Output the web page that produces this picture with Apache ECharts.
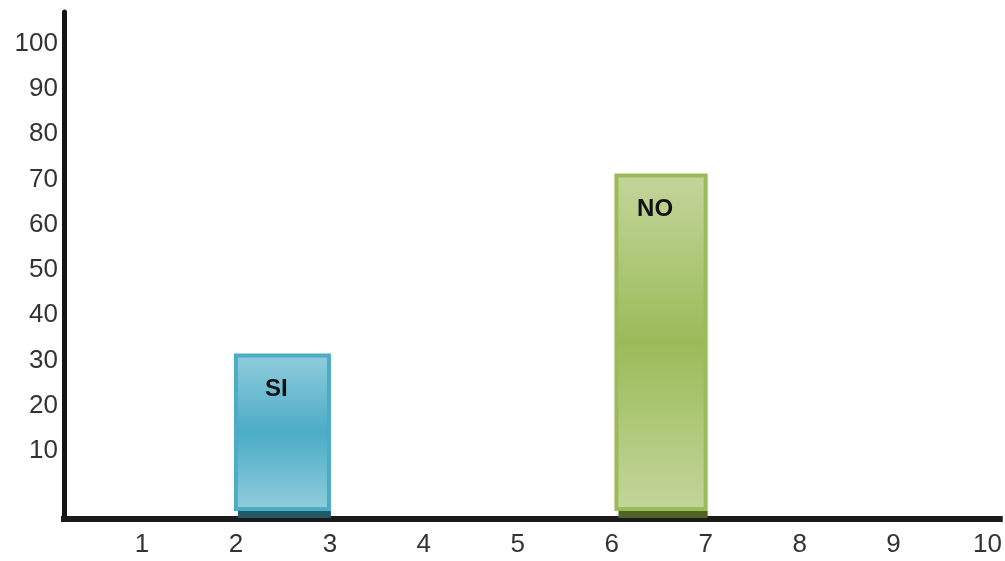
<!DOCTYPE html>
<html>
<head>
<meta charset="utf-8">
<script src="https://cdn.jsdelivr.net/npm/echarts@6/dist/echarts.min.js"></script>
<style>
html,body{margin:0;padding:0;background:#fff;}
#chart{width:1005px;height:561px;}
</style>
</head>
<body>
<div id="chart"></div>
<script>
// ---- data ----
const xTickLabels = [1, 2, 3, 4, 5, 6, 7, 8, 9, 10];
const yTickLabels = [10, 20, 30, 40, 50, 60, 70, 80, 90, 100];
const categories = ['SI', 'NO'];
const barStart = [2, 6.05];
const barEnd = [2.99, 7.0];
const values = [31.1, 70.9];
const barBase = -2.8;

// ---- styles ----
const fillLight = ['#93cddd', '#c3d69b'];
const fillDark = ['#4bacc6', '#9bbb59'];
const borderCol = ['#4bacc6', '#9bbb59'];
const shadowCol = ['#215968', '#4f6228'];

const chart = echarts.init(document.getElementById('chart'), null, {renderer: 'canvas'});

const seriesData = categories.map((c, i) => [barStart[i], barEnd[i], barBase, values[i], c]);

chart.setOption({
  animation: false,
  backgroundColor: '#ffffff',
  grid: {left: 64, right: 0, top: 12, bottom: 42, containLabel: false},
  xAxis: {
    type: 'value',
    min: 0.17,
    max: 10.13,
    splitLine: {show: false},
    axisTick: {show: false},
    axisLine: {show: true, onZero: false, lineStyle: {color: '#1a1a1a', width: 6, cap: 'square'}},
    axisLabel: {
      customValues: xTickLabels,
      margin: 13,
      fontFamily: 'Liberation Sans',
      fontSize: 26,
      color: '#333',
      showMinLabel: true,
      showMaxLabel: true
    }
  },
  yAxis: {
    type: 'value',
    min: -5,
    max: 107,
    splitLine: {show: false},
    axisTick: {show: false},
    axisLine: {show: true, onZero: false, lineStyle: {color: '#151515', width: 5}},
    axisLabel: {
      customValues: yTickLabels,
      margin: 6,
      padding: [6, 0, 0, 0],
      fontFamily: 'Liberation Sans',
      fontSize: 26,
      color: '#333'
    }
  },
  series: [{
    type: 'custom',
    data: seriesData,
    z: 1,
    renderItem: function (params, api) {
      const i = params.dataIndex;
      const p0 = api.coord([api.value(0), api.value(3)]);
      const p1 = api.coord([api.value(1), api.value(2)]);
      const x = p0[0], y = p0[1], w = p1[0] - p0[0], h = p1[1] - p0[1];
      return {
        type: 'group',
        children: [
          {
            type: 'rect',
            shape: {x: x + 2, y: y + h + 2, width: w, height: 7},
            style: {fill: shadowCol[i]}
          },
          {
            type: 'rect',
            shape: {x: x, y: y, width: w, height: h},
            style: {
              fill: new echarts.graphic.LinearGradient(0, 0, 0, 1, [
                {offset: 0, color: fillLight[i]},
                {offset: 0.5, color: fillDark[i]},
                {offset: 1, color: fillLight[i]}
              ]),
              stroke: borderCol[i],
              lineWidth: 4
            }
          },
          {
            type: 'text',
            style: {
              x: x + w / 2 - 6,
              y: y + 34,
              text: api.value(4),
              textAlign: 'center',
              textVerticalAlign: 'middle',
              fontFamily: 'Liberation Sans',
              fontWeight: 'bold',
              fontSize: 24,
              fill: '#111'
            }
          }
        ]
      };
    }
  }]
});
</script>
</body>
</html>
